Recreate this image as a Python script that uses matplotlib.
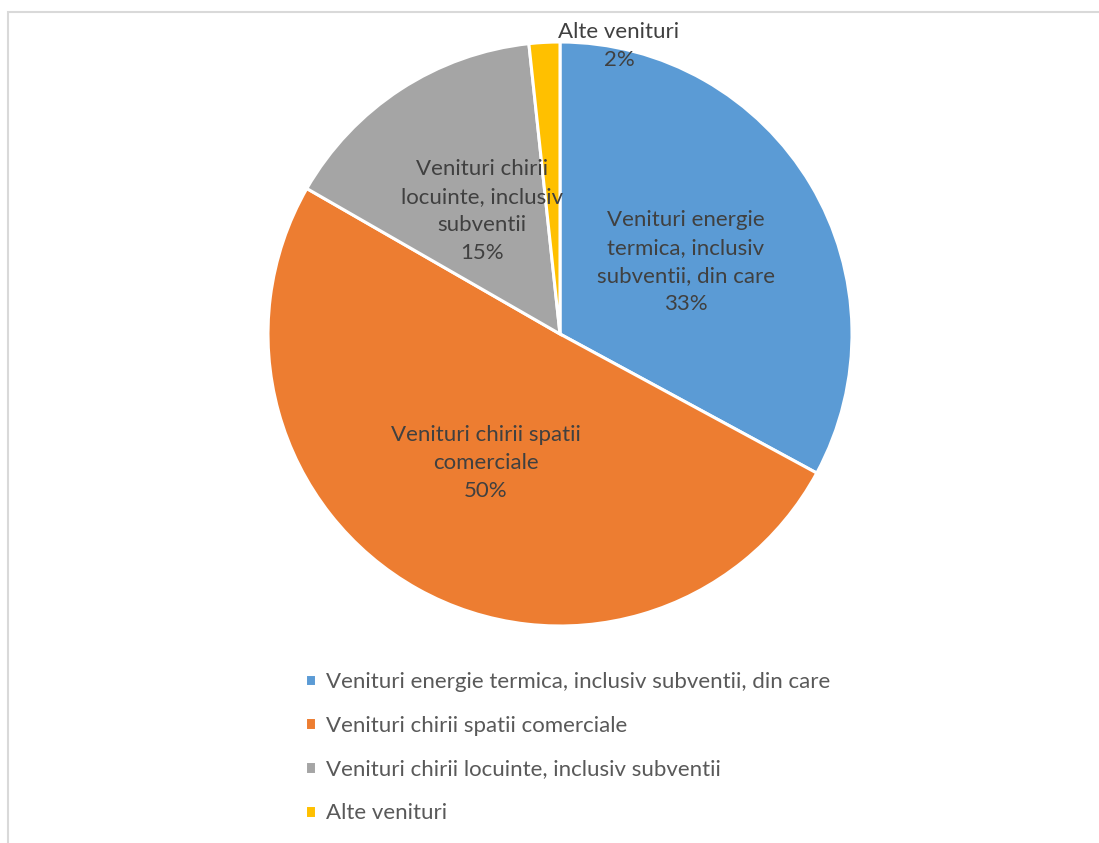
import matplotlib
matplotlib.use("Agg")
import matplotlib.pyplot as plt

categories = [
    "Venituri energie termica, inclusiv subventii, din care",
    "Venituri chirii spatii comerciale",
    "Venituri chirii locuinte, inclusiv subventii",
    "Alte venituri",
]
wrapped_labels = [
    "Venituri energie\ntermica, inclusiv\nsubventii, din care",
    "Venituri chirii spatii\ncomerciale",
    "Venituri chirii\nlocuinte, inclusiv\nsubventii",
    "Alte venituri",
]
values = [32.9, 50.4, 15.0, 1.7]
colors = ["#5B9BD5", "#ED7D31", "#A5A5A5", "#FFC000"]

plt.rcParams['font.family'] = ['Lato', 'DejaVu Sans']

W, H = 1099, 843
fig = plt.figure(figsize=(W / 100, H / 100), dpi=100)
ax = fig.add_axes([0, 0, 1, 1])

cx, cy, R = 560, H - 334, 292
wedges, _ = ax.pie(values, colors=colors, startangle=90, counterclock=False,
                   center=(cx, cy), radius=R,
                   wedgeprops=dict(edgecolor="white", linewidth=2.2))
ax.set_xlim(0, W)
ax.set_ylim(0, H)
ax.set_aspect('equal')
ax.axis('off')

# frame border
ax.plot([8, 8, W], [0, H - 12, H - 12], color="#D9D9D9", lw=1.5,
        solid_capstyle='butt', solid_joinstyle='miter')

total = sum(values)
label_pos = [(686, 262), (486, 463), (482, 211), (619, 46)]
for lab, v, (x, y) in zip(wrapped_labels, values, label_pos):
    txt = f"{lab}\n{v / total * 100:.0f}%"
    ax.text(x, H - y, txt, ha='center', va='center', fontsize=16,
            color="#404040", linespacing=1.52)

leg = ax.legend(wedges, categories, loc='upper left',
                bbox_to_anchor=(296 / W, 1 - 663 / H),
                frameon=False, fontsize=16, labelcolor="#595959",
                handlelength=0.5, handleheight=0.5, handletextpad=0.45,
                labelspacing=1.07, borderaxespad=0)

fig.savefig("out.png", dpi=100)
